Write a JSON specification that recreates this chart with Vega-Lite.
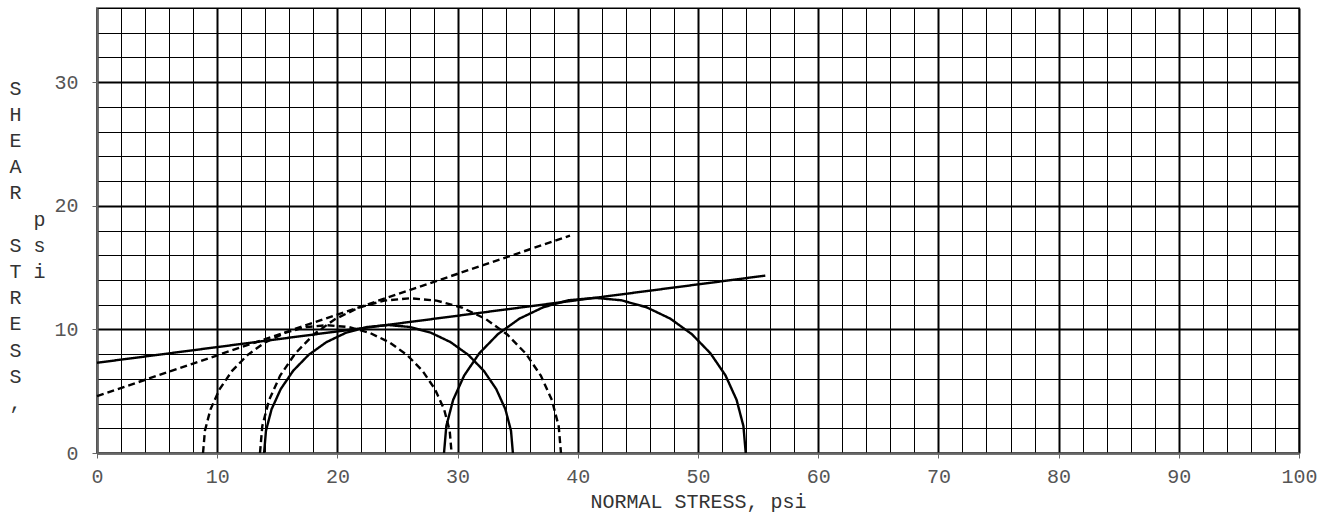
{
  "$schema": "https://vega.github.io/schema/vega-lite/v6.json",
  "width": 1202,
  "height": 445,
  "autosize": {"type": "none"},
  "padding": {"left": 97, "top": 8, "right": 32, "bottom": 70},
  "background": "white",
  "config": {"view": {"stroke": "#808080", "strokeWidth": 2}, "font": "Liberation Mono"},
  "data": {"values": [
    {"curve": "A1", "test": "A", "sigma": 8.82, "tau": 0},
    {"curve": "A1", "test": "A", "sigma": 8.977, "tau": 1.796},
    {"curve": "A1", "test": "A", "sigma": 9.444, "tau": 3.536},
    {"curve": "A1", "test": "A", "sigma": 10.205, "tau": 5.17},
    {"curve": "A1", "test": "A", "sigma": 11.239, "tau": 6.646},
    {"curve": "A1", "test": "A", "sigma": 12.514, "tau": 7.921},
    {"curve": "A1", "test": "A", "sigma": 13.99, "tau": 8.955},
    {"curve": "A1", "test": "A", "sigma": 15.624, "tau": 9.716},
    {"curve": "A1", "test": "A", "sigma": 17.364, "tau": 10.183},
    {"curve": "A1", "test": "A", "sigma": 19.16, "tau": 10.34},
    {"curve": "A1", "test": "A", "sigma": 20.956, "tau": 10.183},
    {"curve": "A1", "test": "A", "sigma": 22.696, "tau": 9.716},
    {"curve": "A1", "test": "A", "sigma": 24.33, "tau": 8.955},
    {"curve": "A1", "test": "A", "sigma": 25.806, "tau": 7.921},
    {"curve": "A1", "test": "A", "sigma": 27.081, "tau": 6.646},
    {"curve": "A1", "test": "A", "sigma": 28.115, "tau": 5.17},
    {"curve": "A1", "test": "A", "sigma": 28.876, "tau": 3.536},
    {"curve": "A1", "test": "A", "sigma": 29.343, "tau": 1.796},
    {"curve": "A1", "test": "A", "sigma": 29.5, "tau": 0},
    {"curve": "A2", "test": "A", "sigma": 13.56, "tau": 0},
    {"curve": "A2", "test": "A", "sigma": 13.75, "tau": 2.174},
    {"curve": "A2", "test": "A", "sigma": 14.315, "tau": 4.282},
    {"curve": "A2", "test": "A", "sigma": 15.237, "tau": 6.26},
    {"curve": "A2", "test": "A", "sigma": 16.489, "tau": 8.048},
    {"curve": "A2", "test": "A", "sigma": 18.032, "tau": 9.591},
    {"curve": "A2", "test": "A", "sigma": 19.82, "tau": 10.843},
    {"curve": "A2", "test": "A", "sigma": 21.798, "tau": 11.765},
    {"curve": "A2", "test": "A", "sigma": 23.906, "tau": 12.33},
    {"curve": "A2", "test": "A", "sigma": 26.08, "tau": 12.52},
    {"curve": "A2", "test": "A", "sigma": 28.254, "tau": 12.33},
    {"curve": "A2", "test": "A", "sigma": 30.362, "tau": 11.765},
    {"curve": "A2", "test": "A", "sigma": 32.34, "tau": 10.843},
    {"curve": "A2", "test": "A", "sigma": 34.128, "tau": 9.591},
    {"curve": "A2", "test": "A", "sigma": 35.671, "tau": 8.048},
    {"curve": "A2", "test": "A", "sigma": 36.923, "tau": 6.26},
    {"curve": "A2", "test": "A", "sigma": 37.845, "tau": 4.282},
    {"curve": "A2", "test": "A", "sigma": 38.41, "tau": 2.174},
    {"curve": "A2", "test": "A", "sigma": 38.6, "tau": 0},
    {"curve": "B1", "test": "B", "sigma": 13.9, "tau": 0},
    {"curve": "B1", "test": "B", "sigma": 14.057, "tau": 1.797},
    {"curve": "B1", "test": "B", "sigma": 14.524, "tau": 3.54},
    {"curve": "B1", "test": "B", "sigma": 15.287, "tau": 5.175},
    {"curve": "B1", "test": "B", "sigma": 16.321, "tau": 6.653},
    {"curve": "B1", "test": "B", "sigma": 17.597, "tau": 7.929},
    {"curve": "B1", "test": "B", "sigma": 19.075, "tau": 8.963},
    {"curve": "B1", "test": "B", "sigma": 20.71, "tau": 9.726},
    {"curve": "B1", "test": "B", "sigma": 22.453, "tau": 10.193},
    {"curve": "B1", "test": "B", "sigma": 24.25, "tau": 10.35},
    {"curve": "B1", "test": "B", "sigma": 26.047, "tau": 10.193},
    {"curve": "B1", "test": "B", "sigma": 27.79, "tau": 9.726},
    {"curve": "B1", "test": "B", "sigma": 29.425, "tau": 8.963},
    {"curve": "B1", "test": "B", "sigma": 30.903, "tau": 7.929},
    {"curve": "B1", "test": "B", "sigma": 32.179, "tau": 6.653},
    {"curve": "B1", "test": "B", "sigma": 33.213, "tau": 5.175},
    {"curve": "B1", "test": "B", "sigma": 33.976, "tau": 3.54},
    {"curve": "B1", "test": "B", "sigma": 34.443, "tau": 1.797},
    {"curve": "B1", "test": "B", "sigma": 34.6, "tau": 0},
    {"curve": "B2", "test": "B", "sigma": 28.87, "tau": 0},
    {"curve": "B2", "test": "B", "sigma": 29.061, "tau": 2.179},
    {"curve": "B2", "test": "B", "sigma": 29.627, "tau": 4.292},
    {"curve": "B2", "test": "B", "sigma": 30.551, "tau": 6.275},
    {"curve": "B2", "test": "B", "sigma": 31.806, "tau": 8.067},
    {"curve": "B2", "test": "B", "sigma": 33.353, "tau": 9.614},
    {"curve": "B2", "test": "B", "sigma": 35.145, "tau": 10.869},
    {"curve": "B2", "test": "B", "sigma": 37.128, "tau": 11.793},
    {"curve": "B2", "test": "B", "sigma": 39.241, "tau": 12.359},
    {"curve": "B2", "test": "B", "sigma": 41.42, "tau": 12.55},
    {"curve": "B2", "test": "B", "sigma": 43.599, "tau": 12.359},
    {"curve": "B2", "test": "B", "sigma": 45.712, "tau": 11.793},
    {"curve": "B2", "test": "B", "sigma": 47.695, "tau": 10.869},
    {"curve": "B2", "test": "B", "sigma": 49.487, "tau": 9.614},
    {"curve": "B2", "test": "B", "sigma": 51.034, "tau": 8.067},
    {"curve": "B2", "test": "B", "sigma": 52.289, "tau": 6.275},
    {"curve": "B2", "test": "B", "sigma": 53.213, "tau": 4.292},
    {"curve": "B2", "test": "B", "sigma": 53.779, "tau": 2.179},
    {"curve": "B2", "test": "B", "sigma": 53.97, "tau": 0},
    {"curve": "A-env", "test": "A", "sigma": 0, "tau": 4.6},
    {"curve": "A-env", "test": "A", "sigma": 39.35, "tau": 17.58},
    {"curve": "B-env", "test": "B", "sigma": 0, "tau": 7.3},
    {"curve": "B-env", "test": "B", "sigma": 55.6, "tau": 14.35}
  ]},
  "mark": {"type": "line", "strokeWidth": 2.4, "color": "black"},
  "encoding": {
    "x": {
      "field": "sigma", "type": "quantitative",
      "scale": {"domain": [0, 100], "nice": false, "zero": false},
      "axis": {
        "values": [0,2,4,6,8,10,12,14,16,18,20,22,24,26,28,30,32,34,36,38,40,42,44,46,48,50,52,54,56,58,60,62,64,66,68,70,72,74,76,78,80,82,84,86,88,90,92,94,96,98,100],
        "grid": true, "gridColor": "#000", "gridOpacity": 1,
        "gridWidth": {"condition": {"test": "datum.value % 10 === 0", "value": 2}, "value": 1},
        "tickSize": 5, "tickColor": "#666",
        "tickOpacity": {"condition": {"test": "datum.value % 10 === 0", "value": 1}, "value": 0},
        "labelExpr": "datum.value % 10 === 0 ? datum.label : ''",
        "labelOverlap": false, "labelFlush": false, "labelBound": false,
        "labelFont": "Liberation Mono", "labelFontSize": 20, "labelColor": "#555", "labelPadding": 8,
        "domainColor": "#666", "domainWidth": 2,
        "title": "NORMAL STRESS, psi", "titleFont": "Liberation Mono", "titleFontSize": 20,
        "titleFontWeight": "normal", "titleColor": "#333", "titlePadding": 5
      }
    },
    "y": {
      "field": "tau", "type": "quantitative",
      "scale": {"domain": [0, 36], "nice": false, "zero": false},
      "axis": {
        "values": [0,2,4,6,8,10,12,14,16,18,20,22,24,26,28,30,32,34,36],
        "grid": true, "gridColor": "#000", "gridOpacity": 1,
        "gridWidth": {"condition": {"test": "datum.value % 10 === 0", "value": 2}, "value": 1},
        "tickSize": 5, "tickColor": "#666",
        "tickOpacity": {"condition": {"test": "datum.value % 10 === 0", "value": 1}, "value": 0},
        "labelExpr": "datum.value % 10 === 0 ? datum.label : ''",
        "labelOverlap": false, "labelFlush": false, "labelBound": false,
        "labelFont": "Liberation Mono", "labelFontSize": 20, "labelColor": "#555", "labelPadding": 14,
        "domainColor": "#666", "domainWidth": 2,
        "title": ["S", "H", "E", "A", "R", "\u200b\u00a0\u00a0p", "S\u00a0s", "T\u00a0i", "R", "E", "S", "S", ","],
        "titleFont": "Liberation Mono", "titleFontSize": 20, "titleFontWeight": "normal", "titleColor": "#333",
        "titleAngle": 0, "titleAlign": "left", "titleBaseline": "top",
        "titleX": -88, "titleY": 70, "titleLineHeight": 26.2
      }
    },
    "detail": {"field": "curve"},
    "strokeDash": {
      "field": "test", "type": "nominal",
      "scale": {"domain": ["A", "B"], "range": [[7, 4], [1, 0]]},
      "legend": null
    }
  }
}
